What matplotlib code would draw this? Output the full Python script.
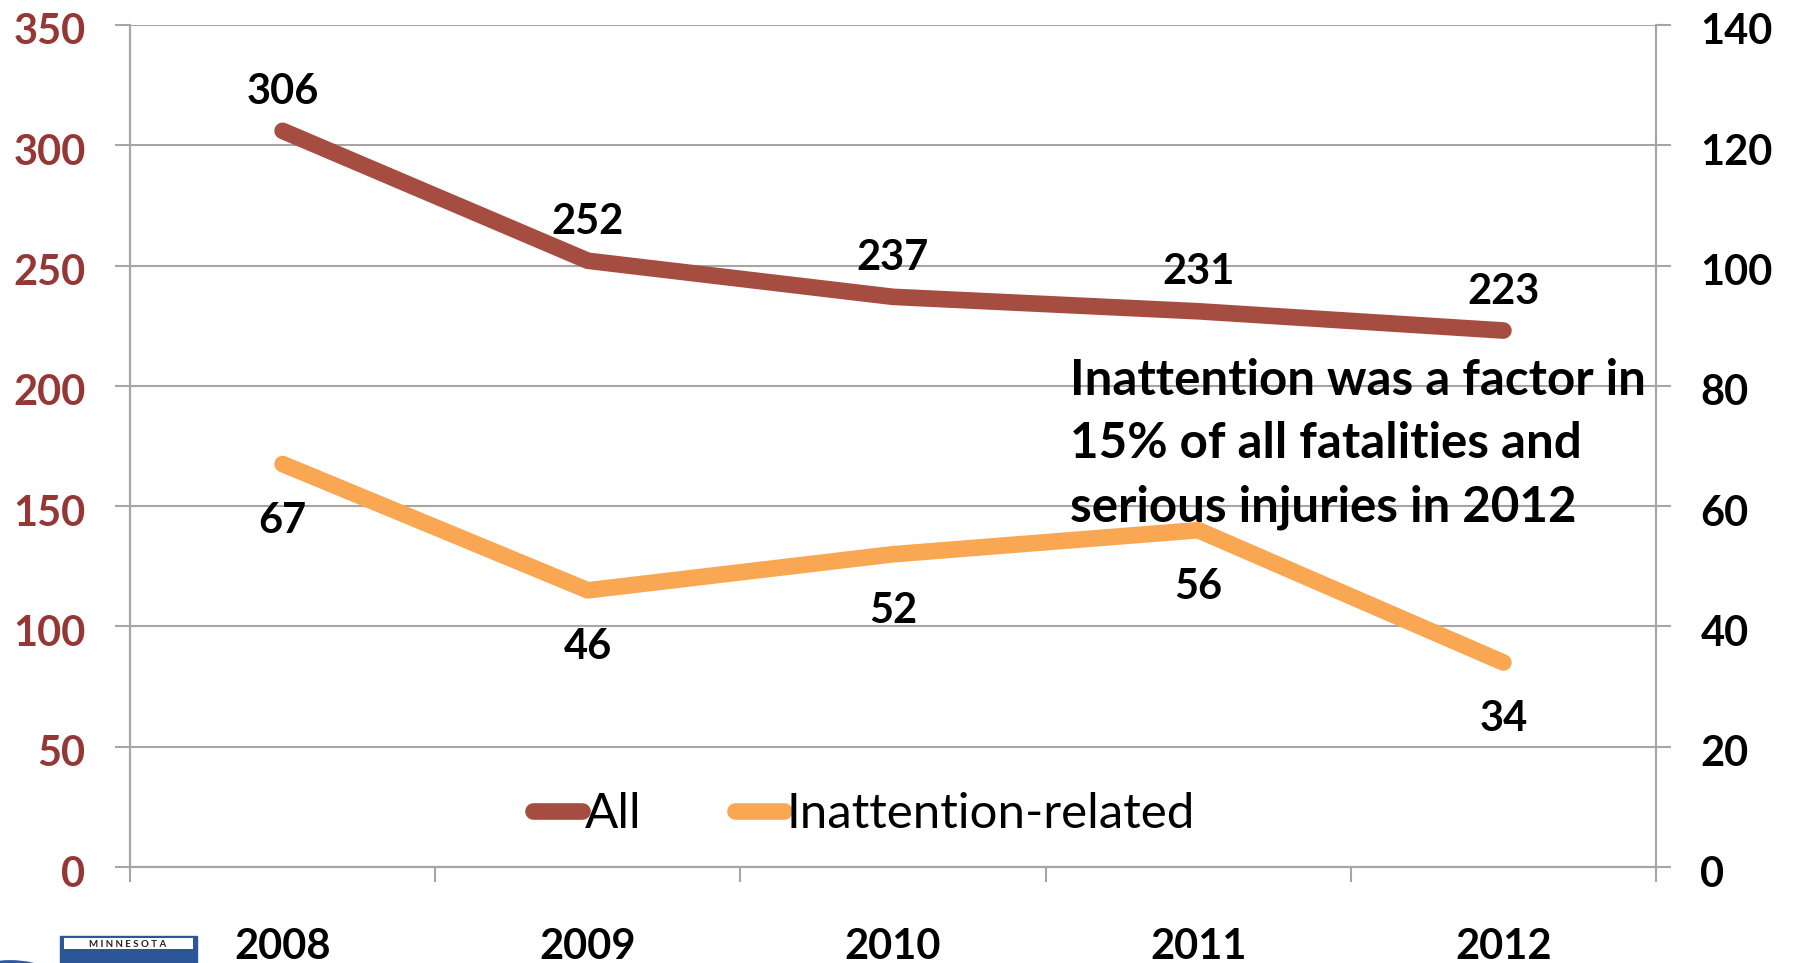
import matplotlib.pyplot as plt
import matplotlib.transforms as mtransforms
from matplotlib.patches import Circle, Rectangle
import numpy as np

plt.rcParams['font.family'] = ['Lato', 'DejaVu Sans']

# Data
years = ['2008', '2009', '2010', '2011', '2012']
all_values = [306, 252, 237, 231, 223]          # left axis
inattention_values = [67, 46, 52, 56, 34]       # right axis
left_ticks = [0, 50, 100, 150, 200, 250, 300, 350]
right_ticks = [0, 20, 40, 60, 80, 100, 120, 140]

all_color = '#A64D42'
inatt_color = '#F9A752'
left_label_color = '#953735'
grid_color = '#A6A6A6'

fig = plt.figure(figsize=(17.94, 9.63), dpi=100)
ax = fig.add_axes([130 / 1794, 96 / 963, 1526 / 1794, 842 / 963])
ax2 = ax.twinx()

x = np.arange(len(years))

# Lines
ax.plot(x, all_values, color=all_color, lw=12, solid_capstyle='round',
        solid_joinstyle='round', label='All', zorder=3)
ax2.plot(x, inattention_values, color=inatt_color, lw=12, solid_capstyle='round',
         solid_joinstyle='round', label='Inattention-related', zorder=3)

# Data labels
for xi, v in zip(x, all_values):
    ax.annotate(str(v), (xi, v), xytext=(0, 28), textcoords='offset points',
                ha='center', va='center', fontsize=30, fontweight='bold', color='black')
for xi, v in zip(x, inattention_values):
    ax2.annotate(str(v), (xi, v), xytext=(0, -41), textcoords='offset points',
                 ha='center', va='center', fontsize=30, fontweight='bold', color='black')

# Axes limits and ticks
ax.set_xlim(-0.5, len(years) - 0.5)
ax.set_ylim(0, 350)
ax2.set_ylim(0, 140)

ax.set_yticks(left_ticks)
ax2.set_yticks(right_ticks)
ax.yaxis.grid(True, color=grid_color, lw=1.5)
ax.set_axisbelow(True)

ax.set_xticks(np.arange(len(years) + 1) - 0.5)
ax.set_xticklabels([])
ax.set_xticks(x, minor=True)
ax.set_xticklabels(years, minor=True)
ax.tick_params(axis='x', which='major', direction='out', length=11, width=1.5, color=grid_color)
ax.tick_params(axis='x', which='minor', length=0, pad=44, labelsize=30)
for lbl in ax.get_xticklabels(minor=True):
    lbl.set_fontweight('bold')

ax.tick_params(axis='y', direction='out', length=11, width=1.5, color=grid_color,
               labelsize=30, labelcolor=left_label_color, pad=21)
ax2.tick_params(axis='y', direction='out', length=11, width=1.5, color=grid_color,
                labelsize=30, labelcolor='black', pad=21)

# nudge the y tick labels a little down, as in the reference
shift = mtransforms.ScaledTranslation(0, -4 / 100, fig.dpi_scale_trans)
for lbl in ax.get_yticklabels() + ax2.get_yticklabels():
    lbl.set_fontweight('bold')
    lbl.set_transform(lbl.get_transform() + shift)

for a in (ax, ax2):
    a.spines['top'].set_visible(False)
    for side in ('left', 'right', 'bottom'):
        a.spines[side].set_color(grid_color)
        a.spines[side].set_linewidth(1.5)

# Annotation text
fig.text(1070 / 1794, 1 - 444 / 963, 'Inattention was a factor in\n15% of all fatalities and\nserious injuries in 2012',
         ha='left', va='center', fontsize=35.5, fontweight='bold',
         linespacing=1.48, color='black', zorder=5)

# Legend
h1, l1 = ax.get_legend_handles_labels()
h2, l2 = ax2.get_legend_handles_labels()
leg = ax.legend(h1 + h2, l1 + l2, ncol=2, loc='center', bbox_to_anchor=(0.481, 0.063),
                frameon=False, fontsize=35.5, handlelength=1.0, handletextpad=0.05,
                columnspacing=1.9)

# Logos at the bottom left (approximation)
fig.patches.append(Circle((10 / 1794, -30 / 963), 0.032, transform=fig.transFigure,
                          facecolor='#E8C84A', edgecolor='#2C5AA0', lw=3))
fig.patches.append(Rectangle((60 / 1794, 0), 137 / 1794, 27 / 963, transform=fig.transFigure,
                             facecolor='#2B579A', edgecolor='#2B579A'))
fig.patches.append(Rectangle((64 / 1794, 14 / 963), 129 / 1794, 11 / 963, transform=fig.transFigure,
                             facecolor='white', edgecolor='none'))
fig.text(128 / 1794, 19 / 963, 'M I N N E S O T A', ha='center', va='center', fontsize=7,
         fontweight='bold', color='#222222')
fig.patches.append(Circle((262 / 1794, -30 / 963), 0.028, transform=fig.transFigure,
                          facecolor='white', edgecolor='#4FB3E0', lw=2))

fig.savefig('out.png', dpi=100)
